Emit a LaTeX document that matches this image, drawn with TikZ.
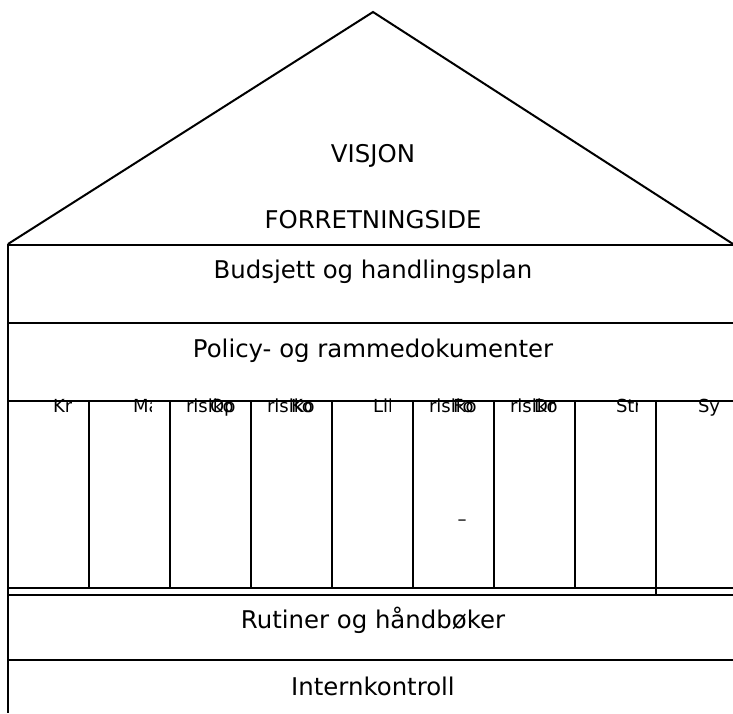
\documentclass[tikz,border=0pt]{standalone}
\usepackage{fontspec}
\setmainfont{DejaVu Sans}
\begin{document}
\begin{tikzpicture}[x=1pt,y=-1pt, line width=2pt,
  big/.style={font=\fontsize{24.4}{29}\selectfont, inner sep=0pt, anchor=base},
  lab/.style={font=\fontsize{18}{22}\selectfont, inner sep=0pt, anchor=base west}]
\useasboundingbox (0,0) rectangle (733,713);
% roof
\coordinate (apex) at (373,12);
\coordinate (bl) at (8,244);
\coordinate (br) at (733,244);
\draw (bl) -- (apex) -- (br);
% walls and floors
\draw (8,244) -- (8,713);
\foreach \y in {245,323,401,588,595,660} \draw (8,\y) -- (733,\y);
% columns
\foreach \k in {1,...,7} \draw ({8+81*\k},401) -- ({8+81*\k},588);
\draw (656,401) -- (656,595);
% texts
\node[big] (visjon) at (373,162) {VISJON};
\node[big] (fi) at (373,228) {FORRETNINGSIDE};
\node[big] (bud) at (373,278) {Budsjett og handlingsplan};
\node[big] (pol) at (373,357) {Policy- og rammedokumenter};
\node[big] (rut) at (373,628) {Rutiner og håndbøker};
\node[big] (ik) at (373,695) {Internkontroll};
% column labels (clipped)
\begin{scope}\clip (8,392) rectangle (71,420); \node[lab] (c1) at (52,412) {Kr};\end{scope}
\begin{scope}\clip (89,392) rectangle (151,420); \node[lab] (c2) at (132,412) {Ma};\end{scope}
\begin{scope}\clip (170,392) rectangle (235,420); \node[lab] (c3a) at (185,412) {risiko}; \node[lab] (c3b) at (209,412) {Op};\end{scope}
\begin{scope}\clip (251,392) rectangle (316,420); \node[lab] (c4a) at (266,412) {risiko}; \node[lab] (c4b) at (290,412) {Ko};\end{scope}
\begin{scope}\clip (332,392) rectangle (390,420); \node[lab] (c5) at (372,412) {Lik};\end{scope}
\begin{scope}\clip (413,392) rectangle (477,420); \node[lab] (c6a) at (428,412) {risiko}; \node[lab] (c6b) at (452,412) {Fo};\end{scope}
\begin{scope}\clip (494,392) rectangle (558,420); \node[lab] (c7a) at (509,412) {risiko}; \node[lab] (c7b) at (533,412) {Dr};\end{scope}
\begin{scope}\clip (575,392) rectangle (637,420); \node[lab] (c8) at (615,412) {Str};\end{scope}
\begin{scope}\clip (656,392) rectangle (722,420); \node[lab] (c9) at (697,412) {Sy};\end{scope}
\node[font=\fontsize{18}{22}\selectfont, inner sep=0pt] (dash) at (462,523) {–};
\end{tikzpicture}
\end{document}
